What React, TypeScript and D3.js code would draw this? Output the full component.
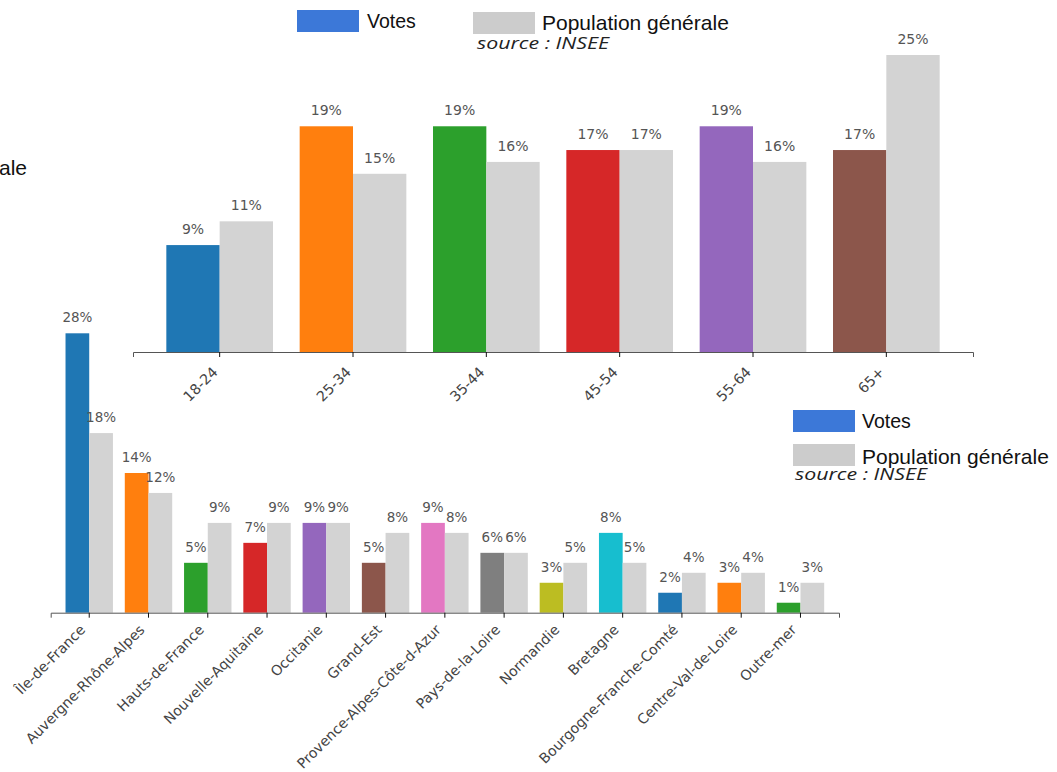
import React, { useEffect, useRef } from 'react';
import * as d3 from 'd3';

const ageGroups = ['18-24', '25-34', '35-44', '45-54', '55-64', '65+'];
const ageVotes = [9, 19, 19, 17, 19, 17];
const agePopulation = [11, 15, 16, 17, 16, 25];

const regions = [
  'Île-de-France',
  'Auvergne-Rhône-Alpes',
  'Hauts-de-France',
  'Nouvelle-Aquitaine',
  'Occitanie',
  'Grand-Est',
  'Provence-Alpes-Côte-d-Azur',
  'Pays-de-la-Loire',
  'Normandie',
  'Bretagne',
  'Bourgogne-Franche-Comté',
  'Centre-Val-de-Loire',
  'Outre-mer',
];
const regionVotes = [28, 14, 5, 7, 9, 5, 9, 6, 3, 8, 2, 3, 1];
const regionPopulation = [18, 12, 9, 9, 9, 8, 8, 6, 5, 5, 4, 4, 3];

const legendLabels = ['Votes', 'Population générale'];
const sourceLabel = 'source : INSEE';

const VOTE_PALETTE = d3.schemeCategory10;
const POP_COLOR = '#d3d3d3';
const LEGEND_BLUE = '#3c78d8';
const LEGEND_GRAY = '#cccccc';

type GroupedOpts = {
  categories: string[];
  votes: number[];
  population: number[];
  xRange: [number, number];
  yRange: [number, number];
  maxValue: number;
  fontSize: number;
  tickFontSize: number;
  tickDx: number;
  tickDy: number;
};

function drawGrouped(svg: d3.Selection<SVGSVGElement, unknown, null, undefined>, o: GroupedOpts) {
  const x = d3.scaleBand<string>()
    .domain(o.categories)
    .range(o.xRange)
    .paddingInner(0.2)
    .paddingOuter(0.25);

  const xSub = d3.scaleBand<string>()
    .domain(['votes', 'pop'])
    .range([0, x.bandwidth()]);

  const y = d3.scaleLinear()
    .domain([0, o.maxValue])
    .range(o.yRange);

  const g = svg.append('g');

  const rows = o.categories.map((c, i) => ({
    cat: c,
    i,
    values: [
      { key: 'votes', v: o.votes[i], color: VOTE_PALETTE[i % 10] },
      { key: 'pop', v: o.population[i], color: POP_COLOR },
    ],
  }));

  const groups = g.selectAll('g.grp')
    .data(rows)
    .join('g')
    .attr('class', 'grp')
    .attr('transform', d => `translate(${x(d.cat)},0)`);

  groups.selectAll('rect')
    .data(d => d.values)
    .join('rect')
    .attr('x', d => xSub(d.key)!)
    .attr('width', xSub.bandwidth())
    .attr('y', d => y(d.v))
    .attr('height', d => y(0) - y(d.v))
    .attr('fill', d => d.color);

  groups.selectAll('text.val')
    .data(d => d.values)
    .join('text')
    .attr('class', 'val')
    .attr('x', d => xSub(d.key)! + xSub.bandwidth() / 2)
    .attr('y', d => y(d.v) - 11)
    .attr('text-anchor', 'middle')
    .attr('font-family', '"DejaVu Sans", sans-serif')
    .attr('font-size', o.fontSize)
    .attr('fill', '#555')
    .text(d => `${d.v}%`);

  // x axis
  const axis = g.append('g')
    .attr('transform', `translate(0,${o.yRange[0]})`)
    .call(d3.axisBottom(x).tickSizeOuter(0).tickSize(5));

  axis.select('.domain').attr('stroke', '#555');
  axis.selectAll('.tick line').attr('stroke', '#111');
  axis.selectAll('.tick text')
    .attr('y', null)
    .attr('dy', null)
    .attr('transform', `translate(${o.tickDx},${o.tickDy}) rotate(-45)`)
    .attr('text-anchor', 'end')
    .attr('font-family', '"DejaVu Sans", sans-serif')
    .attr('font-size', o.tickFontSize)
    .attr('fill', '#444');
}

function drawLegend(
  svg: d3.Selection<SVGSVGElement, unknown, null, undefined>,
  items: { x: number; y: number; color: string; label: string; size: number; tx: number; ty: number }[],
  source: { x: number; y: number },
) {
  const g = svg.append('g');
  items.forEach(it => {
    g.append('rect')
      .attr('x', it.x).attr('y', it.y)
      .attr('width', 62).attr('height', 22)
      .attr('fill', it.color);
    g.append('text')
      .attr('x', it.tx).attr('y', it.ty)
      .attr('font-family', '"Liberation Sans", Arial, sans-serif')
      .attr('font-size', it.size)
      .attr('fill', '#111')
      .text(it.label);
  });
  g.append('text')
    .attr('x', source.x).attr('y', source.y)
    .attr('font-family', '"Open Sans", sans-serif')
    .attr('font-style', 'italic')
    .attr('font-size', 16)
    .attr('textLength', 132)
    .attr('lengthAdjust', 'spacingAndGlyphs')
    .attr('fill', '#222')
    .text(sourceLabel);
}

export default function App() {
  const svgRef = useRef<SVGSVGElement>(null);

  useEffect(() => {
    if (!svgRef.current) return;
    d3.select(svgRef.current).selectAll('*').remove();
    const svg = d3.select(svgRef.current);

    // age chart (top)
    drawGrouped(svg, {
      categories: ageGroups,
      votes: ageVotes,
      population: agePopulation,
      xRange: [133, 973],
      yRange: [352, 55],
      maxValue: 25,
      fontSize: 14,
      tickFontSize: 14.3,
      tickDx: -1,
      tickDy: 21,
    });

    // region chart (bottom)
    drawGrouped(svg, {
      categories: regions,
      votes: regionVotes,
      population: regionPopulation,
      xRange: [50.7, 839],
      yRange: [612.7, 333.3],
      maxValue: 28,
      fontSize: 13.5,
      tickFontSize: 14.1,
      tickDx: -3,
      tickDy: 18,
    });

    // legend at the top (horizontal)
    drawLegend(svg, [
      { x: 297, y: 10, color: LEGEND_BLUE, label: legendLabels[0], size: 19.5, tx: 367, ty: 28.3 },
      { x: 473, y: 12, color: LEGEND_GRAY, label: legendLabels[1], size: 21, tx: 542, ty: 30 },
    ], { x: 477, y: 49 });

    // legend on the right (vertical)
    drawLegend(svg, [
      { x: 793, y: 410, color: LEGEND_BLUE, label: legendLabels[0], size: 19.5, tx: 862, ty: 428.3 },
      { x: 793, y: 444, color: LEGEND_GRAY, label: legendLabels[1], size: 21, tx: 862, ty: 464 },
    ], { x: 795, y: 480 });

    // legend cut by the left edge: only the end of its second label shows
    const edge = svg.append('g');
    edge.append('rect')
      .attr('x', -230).attr('y', 155)
      .attr('width', 62).attr('height', 22)
      .attr('fill', LEGEND_GRAY);
    edge.append('text')
      .attr('x', 27).attr('y', 175)
      .attr('text-anchor', 'end')
      .attr('font-family', '"Liberation Sans", Arial, sans-serif')
      .attr('font-size', 21)
      .attr('fill', '#111')
      .text(legendLabels[1]);
  }, []);

  return (
    <svg
      ref={svgRef}
      width={1057}
      height={772}
      style={{ position: 'absolute', left: 0, top: 0, background: '#fff' }}
    />
  );
}
